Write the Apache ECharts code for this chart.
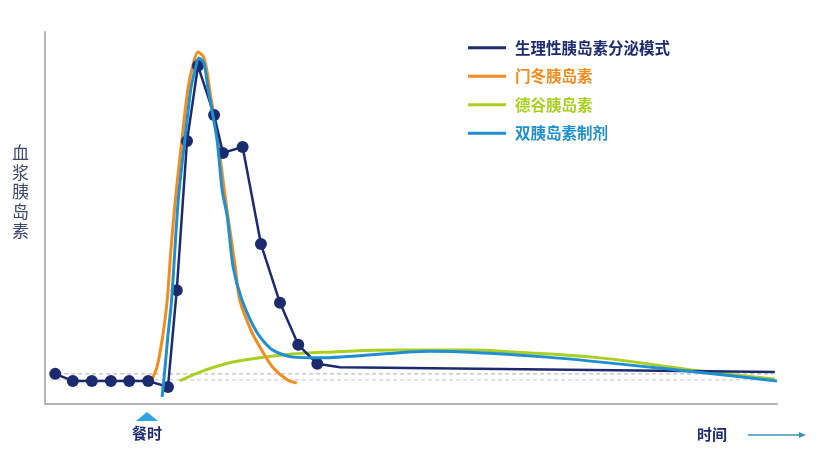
<!DOCTYPE html>
<html><head><meta charset="utf-8">
<script src="https://cdn.jsdelivr.net/npm/echarts@6/dist/echarts.min.js"></script>
<style>html,body{margin:0;padding:0;background:#fff}#c{width:830px;height:458px}</style>
</head><body><div id="c"></div>
<script>
// Series names
const seriesNames = ['生理性胰岛素分泌模式', '门冬胰岛素', '德谷胰岛素', '双胰岛素制剂'];
const yAxisTitle = '血浆胰岛素';
const mealLabel = '餐时';
const timeLabel = '时间';

// Physiological insulin (navy) – first 17 points carry markers
const physX = [1.4, 3.8, 6.4, 9.0, 11.5, 14.1, 16.8, 18.0, 19.4, 20.9, 23.1, 24.3, 27.0, 29.5, 32.1, 34.6, 37.2, 40.3, 62.2, 99.7];
const physY = [8.1, 6.2, 6.2, 6.2, 6.2, 6.2, 4.6, 30.6, 70.7, 90.9, 77.7, 67.5, 69.1, 43.0, 27.2, 15.9, 10.8, 9.9, 9.4, 8.6];
const physMarkerCount = 17;

// Insulin aspart (orange)
const aspartX = [14.6, 15.3, 16.1, 16.7, 17.2, 17.8, 18.7, 19.5, 20.2, 20.9, 21.6, 22.1, 22.5, 23.6, 24.5, 25.0, 26.0, 26.6, 28.3, 29.6, 31.1, 33.1, 34.4];
const aspartY = [6.5, 9.9, 18.5, 28.0, 41.4, 54.8, 71.0, 84.4, 91.1, 94.6, 93.5, 89.8, 84.4, 71.0, 57.5, 50.3, 36.8, 28.0, 19.1, 14.5, 9.9, 6.5, 5.6];

// Insulin degludec (green)
const degludecX = [18.4, 21.9, 25.7, 32.5, 39.3, 48.5, 57.7, 63.9, 75.8, 89.5, 99.7];
const degludecY = [6.2, 9.1, 11.3, 13.2, 14.0, 14.5, 14.5, 14.0, 12.4, 8.9, 6.7];

// Dual insulin (blue)
const dualX = [16.0, 16.4, 16.8, 17.3, 18.2, 19.1, 19.9, 20.5, 21.0, 21.7, 22.3, 23.5, 24.2, 24.9, 25.7, 26.9, 29.0, 31.1, 33.9, 37.6, 52.6, 68.6, 86.7, 100];
const dualY = [1.9, 9.9, 18.5, 28.0, 54.8, 71.0, 84.4, 89.8, 93.0, 91.7, 84.4, 71.0, 57.5, 50.3, 36.8, 28.0, 19.1, 14.5, 12.6, 12.4, 14.2, 12.6, 9.1, 6.2];

// Baseline dashed references
const baseX = [0.7, 99.5];
const baseUpper = [8.1, 8.1];
const baseLower = [6.5, 6.5];

const zip = (xs, ys) => xs.map((x, i) => [x, ys[i]]);
const colors = ['#1c2b6e', '#f28c1f', '#a9cf22', '#1f8fd0'];
const font = '"Noto Sans CJK SC", "Noto Sans", sans-serif';

const chart = echarts.init(document.getElementById('c'), null, {renderer: 'canvas'});
chart.setOption({
  animation: false,
  backgroundColor: '#fff',
  grid: {left: 45, right: 53, top: 32, bottom: 54},
  xAxis: {type: 'value', min: 0, max: 100, axisLine: {lineStyle: {color: '#b4b4b4', width: 2}},
    axisTick: {show: false}, axisLabel: {show: false}, splitLine: {show: false}},
  yAxis: {type: 'value', min: 0, max: 100, axisLine: {show: true, lineStyle: {color: '#b4b4b4', width: 2}},
    axisTick: {show: false}, axisLabel: {show: false}, splitLine: {show: false}},
  legend: {
    orient: 'vertical', left: 463, top: 35, itemWidth: 38, itemHeight: 16, itemGap: 13,
    icon: 'path://M0,6.5 L38,6.5 L38,9.5 L0,9.5 Z',
    textStyle: {fontFamily: font, fontSize: 15.5, fontWeight: 'bold', padding: [0, 0, 0, 4]},
    data: seriesNames.map((n, i) => ({name: n, textStyle: {color: colors[i]}}))
  },
  series: [
    {type: 'line', name: 'baseU', data: zip(baseX, baseUpper), symbol: 'none', silent: true,
      lineStyle: {color: '#bdbdbd', width: 1.2, type: [4, 3]}, z: 1},
    {type: 'line', name: 'baseL', data: zip(baseX, baseLower), symbol: 'none', silent: true,
      lineStyle: {color: '#cfcfcf', width: 1.2, type: [4, 3]}, z: 1},
    {type: 'line', name: seriesNames[2], data: zip(degludecX, degludecY), smooth: 0.4, symbol: 'none',
      itemStyle: {color: colors[2]}, lineStyle: {color: colors[2], width: 3}, z: 2},
    {type: 'line', name: seriesNames[1], data: zip(aspartX, aspartY), smooth: 0.25, symbol: 'none',
      itemStyle: {color: colors[1]}, lineStyle: {color: colors[1], width: 3, join: 'round'}, z: 3},
    {type: 'line', name: seriesNames[0], data: zip(physX, physY), symbol: 'circle', showAllSymbol: true,
      symbolSize: (v, p) => p.dataIndex < physMarkerCount ? 12 : 0,
      itemStyle: {color: colors[0]}, lineStyle: {color: colors[0], width: 2.5}, z: 4},
    {type: 'line', name: seriesNames[3], data: zip(dualX, dualY), smooth: 0.25, symbol: 'none',
      itemStyle: {color: colors[3]}, lineStyle: {color: colors[3], width: 3, join: 'round'}, z: 5}
  ],
  graphic: [
    {type: 'text', left: 12, top: 143, style: {text: yAxisTitle.split('').join('\n'), fill: '#3d4768',
      font: '17px ' + font, lineHeight: 19.5, textAlign: 'left'}},
    {type: 'polygon', shape: {points: [[136, 421], [147, 412], [158, 421]]}, style: {fill: '#2ea3dc'}},
    {type: 'text', x: 147, y: 433, style: {text: mealLabel, fill: '#1c2b6e', font: 'bold 15px ' + font,
      textAlign: 'center', textVerticalAlign: 'middle'}},
    {type: 'text', x: 712, y: 434, style: {text: timeLabel, fill: '#1c2b6e', font: 'bold 15px ' + font,
      textAlign: 'center', textVerticalAlign: 'middle'}},
    {type: 'line', shape: {x1: 748, y1: 435, x2: 801, y2: 435}, style: {stroke: '#3a93b8', lineWidth: 1.5}},
    {type: 'polygon', shape: {points: [[799, 432], [806, 435], [799, 438]]}, style: {fill: '#3a93b8'}}
  ]
});
</script></body></html>
